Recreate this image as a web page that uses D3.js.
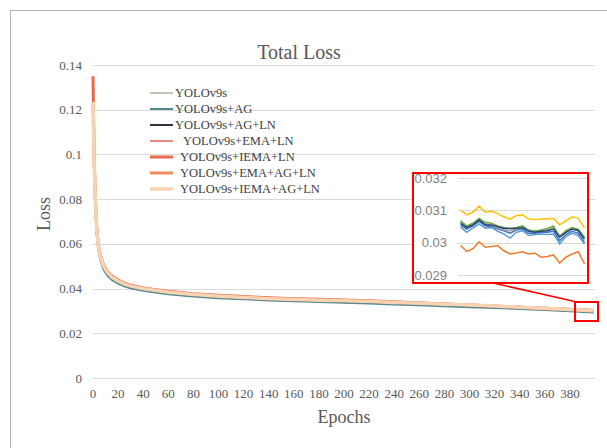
<!DOCTYPE html>
<html>
<head>
<meta charset="utf-8">
<script src="https://cdn.jsdelivr.net/npm/d3@7"></script>
<style>
  body { margin: 0; background: #fff; }
  svg { display: block; }
</style>
</head>
<body>
<div id="chart"></div>
<script>
// series names (legend order)
const seriesNames = ["YOLOv9s", "YOLOv9s+AG", "YOLOv9s+AG+LN", "YOLOv9s+EMA+LN",
  "YOLOv9s+IEMA+LN", "YOLOv9s+EMA+AG+LN", "YOLOv9s+IEMA+AG+LN"];

// sampled epochs for the main curves
const epochs = [0,1,2,3,4,5,6,8,10,12,15,20,25,30,40,50,60,80,100,120,140,160,180,200,220,240,260,280,300,320,340,360,380,399];

const lossV9s =      [0.1210,0.0940,0.0772,0.0652,0.0594,0.0558,0.0533,0.0498,0.0477,0.0461,0.0445,0.0428,0.0415,0.0406,0.0395,0.0387,0.0380,0.0369,0.0362,0.0356,0.0351,0.0347,0.0344,0.0341,0.0337,0.0333,0.0329,0.0325,0.0321,0.0317,0.0313,0.0309,0.0306,0.0300];
const lossAG =       [0.1190,0.0930,0.0762,0.0640,0.0583,0.0548,0.0524,0.0490,0.0470,0.0454,0.0439,0.0422,0.0410,0.0401,0.0390,0.0382,0.0375,0.0364,0.0357,0.0352,0.0347,0.0343,0.0340,0.0337,0.0333,0.0329,0.0325,0.0321,0.0317,0.0313,0.0309,0.0304,0.0299,0.0293];
const lossAGLN =     [0.1200,0.0945,0.0776,0.0657,0.0599,0.0563,0.0538,0.0503,0.0481,0.0465,0.0448,0.0430,0.0417,0.0408,0.0396,0.0388,0.0381,0.0370,0.0363,0.0357,0.0352,0.0348,0.0345,0.0342,0.0339,0.0335,0.0331,0.0327,0.0323,0.0319,0.0314,0.0310,0.0306,0.0301];
const lossEMALN =    [0.1220,0.0948,0.0782,0.0662,0.0604,0.0568,0.0543,0.0508,0.0486,0.0470,0.0453,0.0435,0.0422,0.0413,0.0401,0.0393,0.0386,0.0375,0.0368,0.0362,0.0357,0.0353,0.0350,0.0347,0.0344,0.0340,0.0336,0.0332,0.0328,0.0324,0.0320,0.0315,0.0310,0.0305];
const lossIEMALN =   [0.1350,0.0965,0.0790,0.0668,0.0609,0.0572,0.0547,0.0512,0.0490,0.0473,0.0456,0.0438,0.0424,0.0415,0.0403,0.0395,0.0388,0.0377,0.0370,0.0364,0.0359,0.0355,0.0352,0.0349,0.0345,0.0341,0.0336,0.0331,0.0326,0.0321,0.0316,0.0310,0.0305,0.0300];
const lossEMAAGLN =  [0.1230,0.0955,0.0785,0.0664,0.0605,0.0569,0.0544,0.0509,0.0487,0.0471,0.0454,0.0436,0.0422,0.0413,0.0401,0.0393,0.0386,0.0375,0.0368,0.0362,0.0357,0.0353,0.0350,0.0347,0.0343,0.0339,0.0335,0.0331,0.0327,0.0322,0.0317,0.0312,0.0307,0.0302];
const lossIEMAAGLN = [0.1235,0.0950,0.0780,0.0660,0.0602,0.0566,0.0541,0.0506,0.0484,0.0468,0.0451,0.0433,0.0420,0.0411,0.0399,0.0391,0.0384,0.0373,0.0366,0.0360,0.0355,0.0351,0.0348,0.0345,0.0342,0.0338,0.0334,0.0330,0.0326,0.0322,0.0317,0.0312,0.0306,0.0301];

// zoomed inset: last epochs
const zoomEpochs = [380,381,382,383,384,385,386,387,388,389,390,391,392,393,394,395,396,397,398,399,400];
const zoomV9s =      [0.03055,0.03042,0.03052,0.03066,0.03052,0.03049,0.03042,0.03037,0.03029,0.03039,0.03042,0.03029,0.03029,0.03032,0.03032,0.03035,0.03006,0.03025,0.03035,0.03029,0.03001];
const zoomAG =       [0.02991,0.02973,0.02981,0.03003,0.02986,0.02988,0.02991,0.02975,0.02965,0.02968,0.02972,0.02965,0.02968,0.02955,0.02957,0.02962,0.02937,0.02955,0.02965,0.02972,0.02934];
const zoomAGLN =     [0.03063,0.03049,0.03058,0.03072,0.03060,0.03053,0.03045,0.03039,0.03037,0.03041,0.03049,0.03037,0.03037,0.03037,0.03041,0.03047,0.03021,0.03035,0.03045,0.03039,0.03014];
const zoomEMALN =    [0.03101,0.03086,0.03094,0.03113,0.03094,0.03097,0.03090,0.03080,0.03073,0.03083,0.03086,0.03073,0.03072,0.03073,0.03074,0.03075,0.03055,0.03068,0.03079,0.03076,0.03045];
const zoomIEMALN =   [0.03049,0.03032,0.03045,0.03058,0.03045,0.03047,0.03035,0.03027,0.03014,0.03032,0.03037,0.03022,0.03025,0.03027,0.03025,0.03027,0.02996,0.03019,0.03029,0.03022,0.02996];
const zoomEMAAGLN =  [0.03068,0.03052,0.03060,0.03075,0.03063,0.03060,0.03052,0.03047,0.03044,0.03047,0.03052,0.03039,0.03035,0.03039,0.03044,0.03052,0.03018,0.03037,0.03047,0.03042,0.03017];
const zoomIEMAAGLN = [0.03060,0.03047,0.03055,0.03070,0.03055,0.03055,0.03049,0.03044,0.03044,0.03044,0.03047,0.03035,0.03032,0.03035,0.03037,0.03042,0.03017,0.03032,0.03042,0.03037,0.03011];

const yTicks = [0, 0.02, 0.04, 0.06, 0.08, 0.1, 0.12, 0.14];
const xTicks = d3.range(0, 400, 20);
const zoomTicks = [0.029, 0.03, 0.031, 0.032];

const mainSeries = [lossV9s, lossAG, lossAGLN, lossEMALN, lossIEMALN, lossEMAAGLN, lossIEMAAGLN];
const zoomSeries = [zoomV9s, zoomAG, zoomAGLN, zoomEMALN, zoomIEMALN, zoomEMAAGLN, zoomIEMAAGLN];

const mainColors = ["#aeb196", "#4f8a93", "#3b2d40", "#e0604e", "#e8694b", "#ee8c60", "#f5d3b3"];
const mainWidths = [1.5, 2, 2, 1.5, 3, 3, 3.5];
const zoomColors = ["#4472c4", "#ed7d31", "#a5a5a5", "#ffc000", "#5b9bd5", "#70ad47", "#264478"];

const width = 607, height = 448;
const svg = d3.select("#chart").append("svg").attr("width", width).attr("height", height);

// outer frame
svg.append("rect").attr("x", 10.5).attr("y", 10.5).attr("width", 620).attr("height", 460)
  .attr("fill", "none").attr("stroke", "#b0b0b0");

const x = d3.scaleLinear().domain([0, 400]).range([93, 595]);
const y = d3.scaleLinear().domain([0, 0.14]).range([378, 65]);

const serif = "'Liberation Serif', 'Times New Roman', serif";

// gridlines
svg.append("g").selectAll("line").data(yTicks).join("line")
  .attr("x1", 93).attr("x2", 595)
  .attr("y1", d => Math.round(y(d)) + 0.5).attr("y2", d => Math.round(y(d)) + 0.5)
  .attr("stroke", "#d9d9d9").attr("stroke-width", 1);

// y tick labels
svg.append("g").selectAll("text").data(yTicks).join("text")
  .attr("x", 82).attr("y", d => y(d)).attr("dy", "0.35em")
  .attr("text-anchor", "end").attr("font-family", serif).attr("font-size", 13)
  .attr("fill", "#595959").text(d => d);

// x tick labels
svg.append("g").selectAll("text").data(xTicks).join("text")
  .attr("x", d => x(d)).attr("y", 393).attr("dy", "0.35em")
  .attr("text-anchor", "middle").attr("font-family", serif).attr("font-size", 13)
  .attr("fill", "#595959").text(d => d);

// title and axis titles
svg.append("text").attr("x", 299).attr("y", 59).attr("text-anchor", "middle")
  .attr("font-family", serif).attr("font-size", 20).attr("fill", "#595959").text("Total Loss");
svg.append("text").attr("x", 344).attr("y", 423).attr("text-anchor", "middle")
  .attr("font-family", serif).attr("font-size", 18).attr("fill", "#595959").text("Epochs");
svg.append("text").attr("transform", "translate(50,214) rotate(-90)").attr("text-anchor", "middle")
  .attr("font-family", serif).attr("font-size", 18).attr("fill", "#595959").text("Loss");

// main lines
const line = d3.line().x((d, i) => x(epochs[i])).y(d => y(d));
svg.append("g").selectAll("path").data(mainSeries).join("path")
  .attr("d", d => line(d)).attr("fill", "none")
  .attr("stroke", (d, i) => mainColors[i]).attr("stroke-width", (d, i) => mainWidths[i])
  .attr("stroke-linejoin", "round");

// legend
const legend = svg.append("g").selectAll("g").data(seriesNames).join("g")
  .attr("transform", (d, i) => `translate(0,${93 + i * 16})`);
legend.append("line").attr("x1", 150).attr("x2", 173).attr("y1", 0).attr("y2", 0)
  .attr("stroke", (d, i) => mainColors[i]).attr("stroke-width", (d, i) => mainWidths[i]);
legend.append("text").attr("x", (d, i) => i < 3 ? 175 : (i === 3 ? 183 : 180)).attr("y", 0).attr("dy", "0.35em")
  .attr("font-family", serif).attr("font-size", 12.5).attr("fill", "#404040").text(d => d);

// zoom marker
svg.append("line").attr("x1", 493).attr("y1", 283).attr("x2", 577).attr("y2", 302)
  .attr("stroke", "#ff0000").attr("stroke-width", 1.5);
svg.append("rect").attr("x", 575).attr("y", 302).attr("width", 23).attr("height", 19)
  .attr("fill", "none").attr("stroke", "#ff0000").attr("stroke-width", 2);

// inset
const inset = svg.append("g");
inset.append("rect").attr("x", 413).attr("y", 173).attr("width", 175).attr("height", 110)
  .attr("fill", "#fff").attr("stroke", "none");
const zx = d3.scaleLinear().domain([380, 400]).range([460.5, 584.5]);
const zy = d3.scaleLinear().domain([0.029, 0.032]).range([275, 178]);
inset.append("g").selectAll("line").data(zoomTicks).join("line")
  .attr("x1", 458).attr("x2", 587)
  .attr("y1", d => Math.round(zy(d)) + 0.5).attr("y2", d => Math.round(zy(d)) + 0.5)
  .attr("stroke", "#d9d9d9");
inset.append("g").selectAll("text").data(zoomTicks).join("text")
  .attr("x", 447).attr("y", d => zy(d)).attr("dy", "0.35em").attr("text-anchor", "end")
  .attr("font-family", "'Liberation Sans', Arial, sans-serif").attr("font-size", 13)
  .attr("fill", "#7f7f7f").text(d => d);
const zline = d3.line().x((d, i) => zx(zoomEpochs[i])).y(d => zy(d));
inset.append("g").selectAll("path").data(zoomSeries).join("path")
  .attr("d", d => zline(d)).attr("fill", "none")
  .attr("stroke", (d, i) => zoomColors[i]).attr("stroke-width", 1.5);
inset.append("rect").attr("x", 413).attr("y", 173).attr("width", 175).attr("height", 110)
  .attr("fill", "none").attr("stroke", "#ff0000").attr("stroke-width", 2);
</script>
</body>
</html>
